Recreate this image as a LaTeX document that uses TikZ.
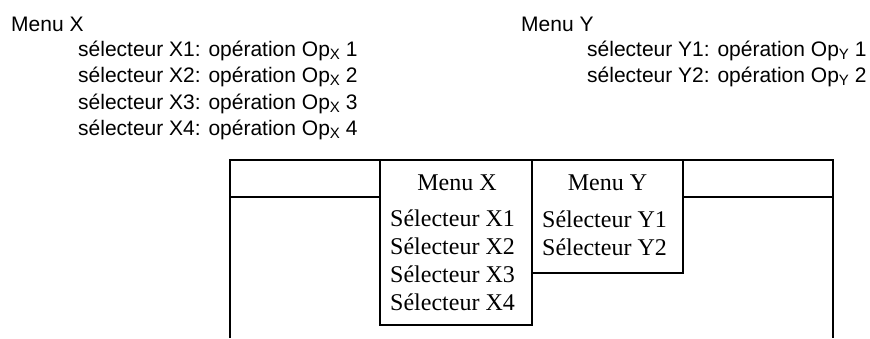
\documentclass[tikz,border=0pt]{standalone}
\usepackage{fontspec}
\setmainfont{Liberation Serif}
\newfontfamily\listfont{Liberation Sans}
\newcommand{\opsub}[1]{Op\raisebox{-0.3ex}{\fontsize{15}{15}\selectfont #1}}
\begin{document}
\begin{tikzpicture}[x=1pt,y=-1pt,
        listtext/.style={anchor=base west,inner sep=0pt,font=\listfont\fontsize{21}{25}\selectfont},
        bartext/.style={anchor=base west,inner sep=0pt,font=\fontsize{24}{28}\selectfont},
        bar/.style={line width=2pt}]
        \useasboundingbox (0,0) rectangle (870,338);
        %% Menu X and its selectors
        \node[listtext] (menuX) at (11,31) {Menu X};
        \foreach \i in {1,...,4}
            \node[listtext] (selX\i) at (78,29.5+26.5*\i) {sélecteur X\i: opération \opsub{X} \i};
        %% Menu Y and its selectors
        \node[listtext] (menuY) at (521,31) {Menu Y};
        \foreach \i in {1,2}
            \node[listtext] (selY\i) at (587,29.5+26.5*\i) {sélecteur Y\i: opération \opsub{Y} \i};
        %% Menu bar and window
        \draw[bar] (230,338) -- (230,160) -- (833,160) -- (833,338);
        \draw[bar] (230,197) -- (833,197);
        \draw[bar,fill=white] (380,160) rectangle (532,325);
        \draw[bar,fill=white] (532,160) rectangle (683,273);
        \node[bartext,anchor=base] (barX) at (457,190) {Menu X};
        \node[bartext,anchor=base] (barY) at (607.5,190) {Menu Y};
        \foreach \i in {1,...,4}
            \node[bartext] (itemX\i) at (390,198+28*\i) {Sélecteur X\i};
        \foreach \i in {1,2}
            \node[bartext] (itemY\i) at (542,199+28*\i) {Sélecteur Y\i};
    \end{tikzpicture}
\end{document}
